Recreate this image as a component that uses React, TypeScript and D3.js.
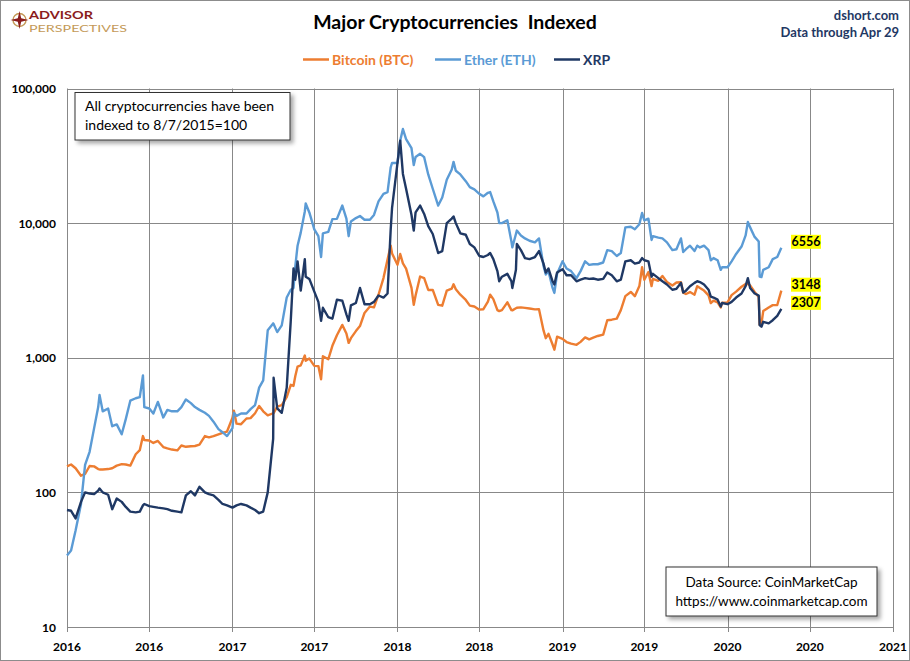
import * as d3 from 'd3';

// sample dates (1st / 10th / 20th of each month plus a few turning points)
const dates = [
  '2016-01-01', '2016-01-10', '2016-01-20',
  '2016-02-01', '2016-02-10', '2016-02-20',
  '2016-03-01', '2016-03-10', '2016-03-13', '2016-03-20',
  '2016-04-01', '2016-04-10', '2016-04-20',
  '2016-05-01', '2016-05-10', '2016-05-20',
  '2016-06-01', '2016-06-10', '2016-06-17', '2016-06-20',
  '2016-07-01', '2016-07-10', '2016-07-20',
  '2016-08-01', '2016-08-10', '2016-08-20',
  '2016-09-01', '2016-09-10', '2016-09-20',
  '2016-10-01', '2016-10-10', '2016-10-20',
  '2016-11-01', '2016-11-10', '2016-11-20',
  '2016-12-01', '2016-12-10', '2016-12-20',
  '2017-01-01', '2017-01-04', '2017-01-10', '2017-01-20',
  '2017-02-01', '2017-02-10', '2017-02-20',
  '2017-03-01', '2017-03-10', '2017-03-20',
  '2017-04-01', '2017-04-02', '2017-04-10', '2017-04-20',
  '2017-05-01', '2017-05-10', '2017-05-16', '2017-05-20', '2017-05-25',
  '2017-06-01', '2017-06-10', '2017-06-12', '2017-06-20',
  '2017-07-01', '2017-07-10', '2017-07-16', '2017-07-20',
  '2017-08-01', '2017-08-10', '2017-08-20',
  '2017-09-01', '2017-09-10', '2017-09-15', '2017-09-20',
  '2017-10-01', '2017-10-10', '2017-10-20',
  '2017-11-01', '2017-11-10', '2017-11-20',
  '2017-12-01', '2017-12-10', '2017-12-17', '2017-12-20',
  '2018-01-01', '2018-01-07', '2018-01-13', '2018-01-20',
  '2018-02-01', '2018-02-06', '2018-02-10', '2018-02-20',
  '2018-03-01', '2018-03-10', '2018-03-20',
  '2018-04-01', '2018-04-10', '2018-04-20',
  '2018-05-01', '2018-05-05', '2018-05-10', '2018-05-20',
  '2018-06-01', '2018-06-10', '2018-06-20',
  '2018-07-01', '2018-07-10', '2018-07-20', '2018-07-25',
  '2018-08-01', '2018-08-10', '2018-08-14', '2018-08-20',
  '2018-09-01', '2018-09-10', '2018-09-12', '2018-09-20', '2018-09-22',
  '2018-10-01', '2018-10-10', '2018-10-20',
  '2018-11-01', '2018-11-10', '2018-11-20', '2018-11-25',
  '2018-12-01', '2018-12-10', '2018-12-14', '2018-12-20',
  '2019-01-01', '2019-01-10', '2019-01-20',
  '2019-02-01', '2019-02-10', '2019-02-20',
  '2019-03-01', '2019-03-10', '2019-03-20',
  '2019-04-01', '2019-04-10', '2019-04-20',
  '2019-05-01', '2019-05-10', '2019-05-20',
  '2019-06-01', '2019-06-10', '2019-06-20', '2019-06-26',
  '2019-07-01', '2019-07-10', '2019-07-17', '2019-07-20',
  '2019-08-01', '2019-08-10', '2019-08-20',
  '2019-09-01', '2019-09-10', '2019-09-20', '2019-09-25',
  '2019-10-01', '2019-10-10', '2019-10-20', '2019-10-26',
  '2019-11-01', '2019-11-10', '2019-11-20', '2019-11-25',
  '2019-12-01', '2019-12-10', '2019-12-17', '2019-12-20',
  '2020-01-01', '2020-01-10', '2020-01-20',
  '2020-02-01', '2020-02-10', '2020-02-15', '2020-02-20',
  '2020-03-01', '2020-03-10', '2020-03-12', '2020-03-16', '2020-03-20',
  '2020-04-01', '2020-04-10', '2020-04-20', '2020-04-29',
];

const btc = [
  156, 161, 151,
  133, 137, 157,
  156, 149, 148, 148,
  149, 151, 158,
  162, 161, 158,
  192, 206, 262, 245,
  243, 233, 241,
  217, 212, 208,
  205, 223, 218,
  220, 221, 226,
  262, 256, 262,
  270, 277, 283,
  358, 405, 324, 321,
  354, 356, 387,
  438, 400, 373,
  387, 388, 434, 444,
  509, 629, 618, 731, 860,
  878, 1039, 950, 986,
  871, 867, 692, 1025,
  975, 1226, 1470,
  1753, 1516, 1290, 1398,
  1577, 1720, 2150,
  2400, 2365, 2939,
  3906, 5376, 6800, 5950,
  4900, 5900, 5020, 4590,
  3300, 2473, 2903, 4014,
  3906, 3190, 3190,
  2473, 2437, 3154,
  3261, 3512, 3226, 2939,
  2688, 2437, 2401,
  2276, 2294, 2616, 2939,
  2724, 2258, 2222, 2258,
  2580, 2258, 2250, 2330, 2350,
  2365, 2348, 2322,
  2287, 2294, 1595, 1398,
  1505, 1254, 1147, 1434,
  1380, 1308, 1272,
  1247, 1312, 1416,
  1369, 1409, 1451,
  1487, 1900, 1917,
  1953, 2258, 2867,
  3082, 2867, 3405, 4700,
  3799, 4337, 3405, 3853,
  3727, 4050, 3656,
  3441, 3620, 3638, 3046,
  2975, 3075, 2939, 3405,
  3297, 3154, 2903, 2545,
  2652, 2580, 2365, 2562,
  2580, 2921, 3100,
  3369, 3530, 3548, 3441,
  3082, 2831, 1756, 1792, 2222,
  2365, 2459, 2466, 3148,
];

const eth = [
  34, 37, 52,
  82, 160, 200,
  300, 430, 530, 400,
  420, 310, 320,
  270, 350, 480,
  500, 510, 740, 430,
  420, 385, 470,
  360, 410, 400,
  400, 430, 490,
  460, 430, 410,
  390, 370, 335,
  295, 280, 262,
  300, 390, 370, 385,
  385, 415, 445,
  600, 680, 1600,
  1800, 1780, 1550, 1740,
  2800, 3200, 3300, 4800, 6800,
  8500, 12200, 14000, 12000,
  9000, 8000, 5600, 8400,
  8600, 10700, 10760,
  13500, 10800, 8000, 10300,
  10900, 11300, 10600,
  10600, 11500, 14500,
  16500, 17000, 26000, 28000,
  28000, 41000, 50000, 42000,
  36000, 27000, 31000, 32700,
  30900, 23000, 18000,
  13500, 15500, 21000,
  25000, 28500, 24500, 23000,
  20500, 18500, 17800,
  16500, 15800, 16800, 17000,
  14500, 12000, 10000, 10000,
  10500, 7300, 6600, 8300, 8800,
  8100, 7700, 7400,
  7200, 7700, 4800, 4150,
  4400, 3300, 3030, 4200,
  5200, 4600, 4400,
  3900, 4400, 5200,
  4900, 4950, 4950,
  5100, 6300, 6200,
  5700, 6000, 9300,
  9400, 9000, 9800, 11900,
  10500, 10800, 7500, 8000,
  7800, 7700, 7200,
  6300, 6400, 7700, 6100,
  6400, 6800, 6200, 6800,
  6600, 6800, 6300, 5300,
  5500, 5300, 4500, 4700,
  4700, 5200, 5900,
  6700, 8100, 10200, 9300,
  7900, 7300, 4010, 3970, 4500,
  4700, 5400, 5600, 6556,
];

const xrp = [
  74, 73, 64,
  85, 100, 98,
  97, 103, 107, 100,
  96, 75, 90,
  85, 78, 72,
  71, 72, 80, 82,
  79, 78, 77,
  76, 75, 73,
  72, 71, 95,
  102, 95, 110,
  100, 97, 95,
  88, 82, 80,
  77, 78, 80, 82,
  80, 77, 74,
  70, 72, 100,
  250, 710, 420, 390,
  600, 1900, 4600, 3800, 5200,
  3150, 5400, 4000, 3850,
  3100, 2600, 1880, 2350,
  2000, 1950, 2700,
  2650, 2100, 1880, 2450,
  2550, 3300, 2500,
  2500, 2600, 2900,
  2800, 3000, 9000, 13000,
  28000, 41000, 23200, 18000,
  11500, 8800, 12000, 13500,
  11700, 9500, 8300,
  6000, 6200, 10000,
  10800, 11200, 10000, 8400,
  8200, 7000, 6600,
  5700, 5600, 5800, 6000,
  5400, 4400, 3700, 4000,
  4200, 3700, 3300, 4500, 7000,
  6300, 5500, 5400,
  5600, 6200, 5000, 4300,
  4600, 3700, 3500, 4300,
  4550, 4100, 4100,
  3700, 3800, 3900,
  3850, 3880, 3800,
  3850, 4300, 4100,
  3700, 3800, 5200,
  5300, 5000, 5100, 5500,
  5300, 5200, 4000, 4200,
  3900, 3700, 3500,
  3200, 3250, 3600, 3050,
  3150, 3400, 3600, 3700,
  3650, 3500, 3200, 2850,
  2800, 2700, 2400, 2550,
  2500, 2600, 2800,
  3000, 3400, 3900, 3300,
  3000, 2900, 1750, 1700, 1850,
  1800, 1900, 2050, 2307,
];

const seriesNames = ['Bitcoin (BTC)', 'Ether (ETH)', 'XRP'];
const seriesColors = ['#ED7D31', '#5B9BD5', '#1F3864'];
const xTickLabels = ['2016', '2016', '2017', '2017', '2018', '2018', '2019', '2019', '2020', '2020', '2021'];
const yTicks = [10, 100, 1000, 10000, 100000];

const W = 910;
const H = 661;
const FONT = 'Lato, "Open Sans", sans-serif';

export default function App() {
  const parse = d3.timeParse('%Y-%m-%d');

  const x = d3.scaleTime()
    .domain([new Date(2016, 0, 1), new Date(2021, 0, 1)])
    .range([67, 893]);
  const y = d3.scaleLog()
    .domain([10, 100000])
    .range([627, 88.5]);

  const xTicks = x.ticks(d3.timeMonth.every(6)!);

  const series = [btc, eth, xrp].map((vals, i) => ({
    name: seriesNames[i],
    color: seriesColors[i],
    points: dates.slice(0, vals.length).map((d, j) => ({ date: parse(d)!, v: vals[j] })),
  }));

  const line = d3.line<{ date: Date; v: number }>()
    .x(d => x(d.date))
    .y(d => y(d.v));

  const fmt = d3.format(',');

  // legend layout
  const legendX = [303, 435, 554];

  return (
    <div style={{ position: 'absolute', left: 0, top: 0 }}>
      <svg width={W} height={H} style={{ display: 'block', fontFamily: FONT }}>
        <defs>
          <filter id="shadow" x="-10%" y="-10%" width="130%" height="140%">
            <feDropShadow dx="3" dy="3" stdDeviation="2" floodColor="#000" floodOpacity="0.35" />
          </filter>
        </defs>
        <rect x={0.5} y={0.5} width={W - 1} height={H - 1} fill="#fff" stroke="#8c8c8c" />

        {/* logo */}
        <g>
          <circle cx={19.5} cy={20} r={6.5} fill="none" stroke="#C49A58" strokeWidth={1.4} />
          <path d="M19.5 11 L21.2 18.3 L28.5 20 L21.2 21.7 L19.5 29 L17.8 21.7 L10.5 20 L17.8 18.3 Z" fill="#8B1C1C" />
          <text x={29} y={19} fontSize={10.5} fontWeight="bold" fill="#8B1C1C" textLength={64} lengthAdjust="spacingAndGlyphs">ADVISOR</text>
          <text x={29} y={31.5} fontSize={10} fill="#C49A58" textLength={98} lengthAdjust="spacingAndGlyphs">PERSPECTIVES</text>
        </g>

        {/* titles */}
        <text x={455} y={29} textAnchor="middle" fontSize={19.5} fontWeight="bold" fill="#000" style={{ whiteSpace: 'pre' }}>
          {'Major Cryptocurrencies  Indexed'}
        </text>
        <text x={899} y={19.5} textAnchor="end" fontSize={13} fontWeight="bold" fill="#1F3864">dshort.com</text>
        <text x={899} y={37} textAnchor="end" fontSize={13} fontWeight="bold" fill="#1F3864">Data through Apr 29</text>

        {/* legend */}
        {series.map((s, i) => (
          <g key={s.name}>
            <line x1={legendX[i]} x2={legendX[i] + 26} y1={59.5} y2={59.5} stroke={s.color} strokeWidth={2.5} />
            <text x={legendX[i] + 29} y={64.5} fontSize={14} fontWeight="bold" fill={s.color}>{s.name}</text>
          </g>
        ))}

        {/* grid */}
        {yTicks.map(t => (
          <line key={'gy' + t} x1={67} x2={893} y1={Math.round(y(t)) + 0.5} y2={Math.round(y(t)) + 0.5} stroke="#888" strokeWidth={1} />
        ))}
        {xTicks.map((t, i) => (
          <line key={'gx' + i} x1={Math.round(x(t)) + 0.5} x2={Math.round(x(t)) + 0.5} y1={88.5} y2={632} stroke="#888" strokeWidth={1} />
        ))}

        {/* axis labels */}
        {yTicks.map(t => (
          <text key={'ly' + t} x={56} y={y(t) + 4.5} textAnchor="end" fontSize={12} fontWeight="bold" fill="#000">{fmt(t)}</text>
        ))}
        {xTicks.map((t, i) => (
          <text key={'lx' + i} x={x(t)} y={651} textAnchor="middle" fontSize={12} fontWeight="bold" fill="#000">{xTickLabels[i]}</text>
        ))}

        {/* series */}
        {series.map(s => (
          <path key={s.name} d={line(s.points) || ''} fill="none" stroke={s.color} strokeWidth={2.4} strokeLinejoin="round" />
        ))}

        {/* end-value labels */}
        {series.map(s => {
          const last = s.points[s.points.length - 1];
          const cy = y(last.v) - 6;
          return (
            <g key={'end' + s.name}>
              <rect x={791} y={cy - 7} width={30} height={14} fill="#FFFF00" />
              <text x={806} y={cy + 4.5} textAnchor="middle" fontSize={12.5} fontWeight="bold" fill="#000">{last.v}</text>
            </g>
          );
        })}

        {/* note box */}
        <rect x={75} y={92.5} width={215} height={47.5} fill="#fff" stroke="#333" strokeWidth={1} filter="url(#shadow)" />
        <text x={85} y={111} fontSize={14} fill="#000">All cryptocurrencies have been</text>
        <text x={85} y={130} fontSize={14} fill="#000">indexed to 8/7/2015=100</text>

        {/* source box */}
        <rect x={666} y={567} width={211} height={49} fill="#fff" stroke="#333" strokeWidth={1} filter="url(#shadow)" />
        <text x={771.5} y={587} textAnchor="middle" fontSize={13.5} fill="#000">Data Source: CoinMarketCap</text>
        <text x={771.5} y={606} textAnchor="middle" fontSize={13.5} fill="#000">https://www.coinmarketcap.com</text>
      </svg>
    </div>
  );
}
